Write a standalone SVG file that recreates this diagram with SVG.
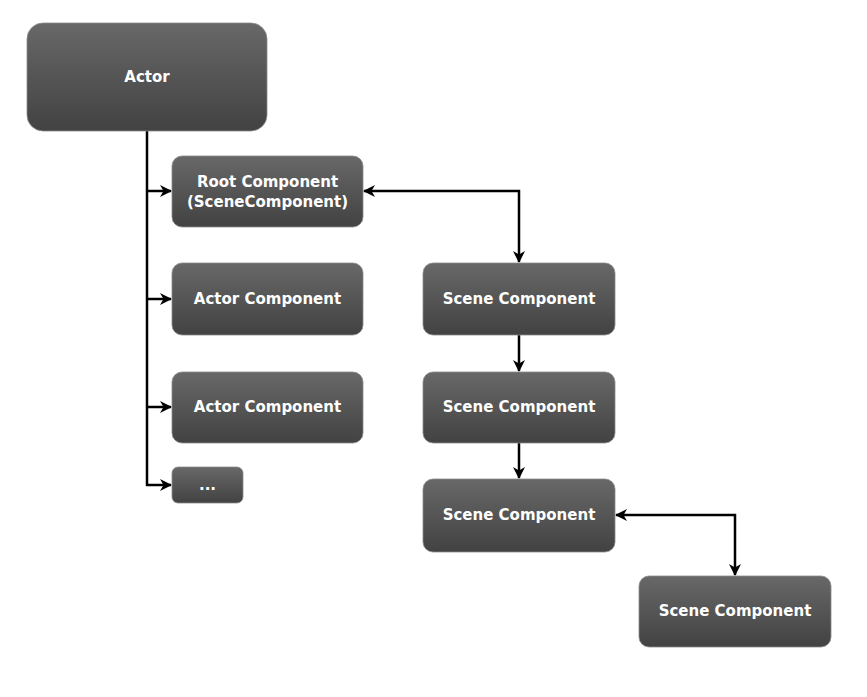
<svg xmlns="http://www.w3.org/2000/svg" width="867" height="697" viewBox="0 0 867 697">
<defs>
<linearGradient id="g" x1="0" y1="0" x2="0" y2="1">
<stop offset="0" stop-color="#686868"/>
<stop offset="1" stop-color="#424242"/>
</linearGradient>
<marker id="ah" viewBox="0 0 12 12" refX="11" refY="6" markerWidth="12" markerHeight="12" markerUnits="userSpaceOnUse" orient="auto-start-reverse">
<path d="M0,0 L12,6 L0,12 L3.5,6 Z" fill="#000"/>
</marker>
<style>
.n{fill:url(#g);stroke:#8a8a8a;stroke-width:0.8}
.t{font-family:"DejaVu Sans",Verdana,sans-serif;font-weight:bold;font-size:15px;fill:#fff;text-anchor:middle}
.c{fill:none;stroke:#000;stroke-width:2.5}
</style>
</defs>
<rect width="867" height="697" fill="#fff"/>
<g id="connectors">
<path class="c" d="M147,131 V486"/>
<path class="c" d="M146,191 H171" marker-end="url(#ah)"/>
<path class="c" d="M146,299 H171" marker-end="url(#ah)"/>
<path class="c" d="M146,407 H171" marker-end="url(#ah)"/>
<path class="c" d="M146,485 H171" marker-end="url(#ah)"/>
<path class="c" d="M364,191 H519 V262" marker-start="url(#ah)" marker-end="url(#ah)"/>
<path class="c" d="M519,335 V371" marker-end="url(#ah)"/>
<path class="c" d="M519,443 V478" marker-end="url(#ah)"/>
<path class="c" d="M616,515 H735 V575" marker-start="url(#ah)" marker-end="url(#ah)"/>
</g>
<g id="actor"><rect class="n" x="27" y="23" width="240" height="108" rx="16"/><text class="t" x="147" y="82">Actor</text></g>
<g id="root"><rect class="n" x="172" y="156" width="191" height="71" rx="10"/><text class="t" x="267.5" y="187">Root Component</text><text class="t" x="267.5" y="207">(SceneComponent)</text></g>
<g id="actorcomp1"><rect class="n" x="172" y="263" width="191" height="72" rx="10"/><text class="t" x="267.5" y="304">Actor Component</text></g>
<g id="actorcomp2"><rect class="n" x="172" y="372" width="191" height="71" rx="10"/><text class="t" x="267.5" y="412">Actor Component</text></g>
<g id="more"><rect class="n" x="172" y="467" width="71" height="36" rx="6"/><text class="t" x="207.5" y="490">...</text></g>
<g id="scene1"><rect class="n" x="423" y="263" width="192" height="72" rx="10"/><text class="t" x="519" y="304">Scene Component</text></g>
<g id="scene2"><rect class="n" x="423" y="372" width="192" height="71" rx="10"/><text class="t" x="519" y="412">Scene Component</text></g>
<g id="scene3"><rect class="n" x="423" y="479" width="192" height="73" rx="10"/><text class="t" x="519" y="520">Scene Component</text></g>
<g id="scene4"><rect class="n" x="639" y="576" width="192" height="71" rx="10"/><text class="t" x="735" y="616">Scene Component</text></g>
</svg>
